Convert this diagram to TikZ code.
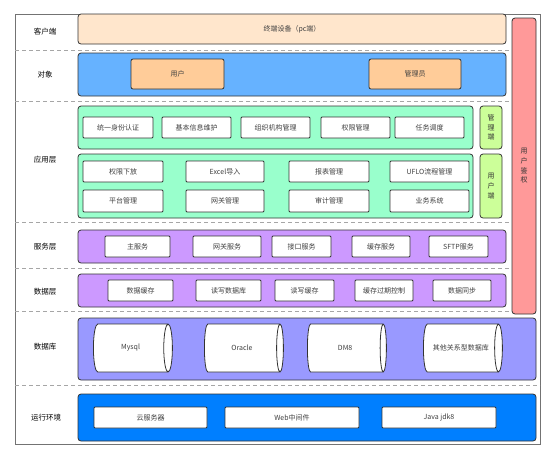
\documentclass[tikz,border=0pt]{standalone}
\usepackage{fontspec}
\setmainfont{Noto Sans CJK SC}
\usepackage{tikz}
\usetikzlibrary{shapes.geometric}
\definecolor{creme}{HTML}{FFE6CC}
\definecolor{bleuobj}{HTML}{66B2FF}
\definecolor{orange}{HTML}{FFCC99}
\definecolor{vert}{HTML}{99FFCC}
\definecolor{citron}{HTML}{CCFF99}
\definecolor{rose}{HTML}{FF9999}
\definecolor{violet}{HTML}{CC99FF}
\definecolor{lavande}{HTML}{9999FF}
\definecolor{bleuvif}{HTML}{007FFF}
\tikzstyle{couche} = [rectangle, rounded corners=3pt, draw=black!80, line width=0.8pt, inner sep=0pt]
\tikzstyle{boite} = [rectangle, rounded corners=1pt, draw=black!80, line width=0.8pt, fill=white, inner sep=0pt, text=black!75, font=\fontsize{7}{9}\selectfont]
\tikzstyle{vertical} = [rectangle, rounded corners=3pt, draw=black!80, line width=0.8pt, inner sep=0pt, align=center, text=black!80, font=\fontsize{7}{9.7}\selectfont]
\tikzstyle{titre} = [text=black, font=\fontsize{7.5}{9}\selectfont]
\tikzstyle{base} = [cylinder, aspect=1.2, draw=black!80, line width=0.8pt, fill=white, inner sep=0pt, minimum width=48pt, minimum height=79pt, anchor=west, text=black!75, font=\fontsize{7}{9}\selectfont]
\tikzstyle{pointille} = [draw=black!35, line width=0.9pt, dash pattern=on 4pt off 3pt]

\begin{document}
\begin{tikzpicture}[x=1pt, y=-1pt]
        \useasboundingbox (0,0) rectangle (554,459);
        \draw[draw=black!55, line width=0.9pt] (15,14) rectangle (540,444);
        \draw[pointille] (15,50) -- (510,50);
        \draw[pointille] (15,101) -- (510,101);
        \draw[pointille] (15,222) -- (510,222);
        \draw[pointille] (15,268) -- (510,268);
        \draw[pointille] (15,311) -- (510,311);
        \draw[pointille] (15,385) -- (540,385);

        \node (t1) [titre] at (45,32) {客户端};
        \node (t2) [titre] at (45,75) {对象};
        \node (t3) [titre] at (45,160) {应用层};
        \node (t4) [titre] at (45,247) {服务层};
        \node (t5) [titre] at (45,292) {数据层};
        \node (t6) [titre] at (45,347) {数据库};
        \node (t7) [titre] at (46,418) {运行环境};

        \node (c1) [couche, fill=creme, minimum width=428pt, minimum height=30pt, text=black!75, font=\fontsize{7}{9}\selectfont] at (292,29) {终端设备（pc端）};
        \node (c2) [couche, fill=bleuobj, minimum width=428pt, minimum height=43pt] at (292,74.5) {};
        \node (c3) [couche, fill=vert, minimum width=395pt, minimum height=43pt] at (275.5,127.5) {};
        \node (c4) [couche, fill=vert, minimum width=395pt, minimum height=64pt] at (275.5,186) {};
        \node (c5) [couche, fill=violet, minimum width=428pt, minimum height=33pt] at (292,246.5) {};
        \node (c6) [couche, fill=violet, minimum width=428pt, minimum height=33pt] at (292,290.5) {};
        \node (c7) [couche, fill=lavande, minimum width=458pt, minimum height=62pt] at (307,349) {};
        \node (c8) [couche, fill=bleuvif, minimum width=458pt, minimum height=47pt] at (307,417.5) {};

        \node (m1) [vertical, fill=citron, minimum width=22pt, minimum height=43pt] at (491,127.5) {管\\理\\端};
        \node (m2) [vertical, fill=citron, minimum width=22pt, minimum height=64pt] at (491,186) {用\\户\\端};
        \node (auth) [vertical, fill=rose, minimum width=24pt, minimum height=296pt] at (524,166) {用\\户\\鉴\\权};

        \node (o1) [boite, fill=orange, rounded corners=2pt, minimum width=93pt, minimum height=30pt] at (177.5,74) {用户};
        \node (o2) [boite, fill=orange, rounded corners=2pt, minimum width=92pt, minimum height=30pt] at (415,74) {管理员};

        \node (a11) [boite, minimum width=70pt, minimum height=21pt] at (118,127.5) {统一身份认证};
        \node (a12) [boite, minimum width=69pt, minimum height=21pt] at (196.5,127.5) {基本信息维护};
        \node (a13) [boite, minimum width=69pt, minimum height=21pt] at (275.5,127.5) {组织机构管理};
        \node (a14) [boite, minimum width=69pt, minimum height=21pt] at (355.5,127.5) {权限管理};
        \node (a15) [boite, minimum width=69pt, minimum height=21pt] at (429.5,127.5) {任务调度};

        \node (a21) [boite, minimum width=80pt, minimum height=21pt] at (123,171.5) {权限下放};
        \node (a22) [boite, minimum width=78pt, minimum height=21pt] at (225,171.5) {Excel导入};
        \node (a23) [boite, minimum width=80pt, minimum height=21pt] at (329,171.5) {报表管理};
        \node (a24) [boite, minimum width=79pt, minimum height=21pt] at (429.5,171.5) {UFLO流程管理};
        \node (a31) [boite, minimum width=80pt, minimum height=22pt] at (123,201) {平台管理};
        \node (a32) [boite, minimum width=78pt, minimum height=22pt] at (225,201) {网关管理};
        \node (a33) [boite, minimum width=80pt, minimum height=22pt] at (329,201) {审计管理};
        \node (a34) [boite, minimum width=79pt, minimum height=22pt] at (429.5,201) {业务系统};

        \node (s1) [boite, minimum width=65pt, minimum height=21pt] at (137.5,246.5) {主服务};
        \node (s2) [boite, minimum width=68pt, minimum height=21pt] at (227,246.5) {网关服务};
        \node (s3) [boite, minimum width=59pt, minimum height=21pt] at (301.5,246.5) {接口服务};
        \node (s4) [boite, minimum width=58pt, minimum height=21pt] at (381,246.5) {缓存服务};
        \node (s5) [boite, minimum width=59pt, minimum height=21pt] at (458.5,246.5) {SFTP服务};

        \node (d1) [boite, minimum width=65pt, minimum height=21pt] at (140.5,290.5) {数据缓存};
        \node (d2) [boite, minimum width=65pt, minimum height=21pt] at (228.5,290.5) {读写数据库};
        \node (d3) [boite, minimum width=59pt, minimum height=21pt] at (304.5,290.5) {读写缓存};
        \node (d4) [boite, minimum width=58pt, minimum height=21pt] at (384,290.5) {缓存过期控制};
        \node (d5) [boite, minimum width=58pt, minimum height=21pt] at (462,290.5) {数据同步};

        \node (b1) [base] at (93,348) {Mysql};
        \node (b2) [base] at (204,348) {Oracle};
        \node (b3) [base] at (307,348) {DM8};
        \node (b4) [base] at (423,348) {其他关系型数据库};

        \node (r1) [boite, minimum width=113pt, minimum height=21pt] at (150.5,417.5) {云服务器};
        \node (r2) [boite, minimum width=134pt, minimum height=21pt] at (292,417.5) {Web中间件};
        \node (r3) [boite, minimum width=114pt, minimum height=21pt] at (439,417.5) {Java jdk8};
    \end{tikzpicture}
\end{document}
